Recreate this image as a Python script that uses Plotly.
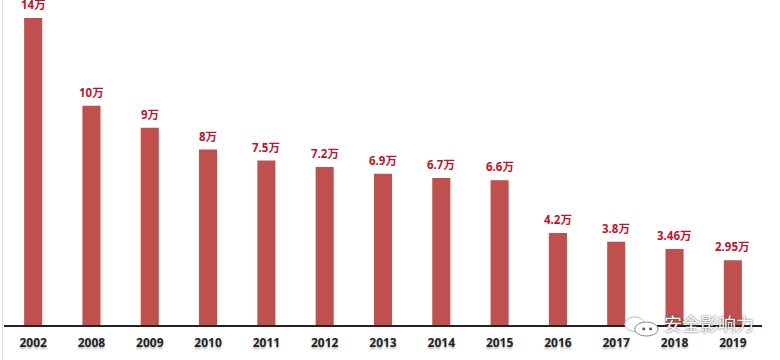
import plotly.graph_objects as go

years = ["2002","2008","2009","2010","2011","2012","2013","2014","2015","2016","2017","2018","2019"]
values = [14, 10, 9, 8, 7.5, 7.2, 6.9, 6.7, 6.6, 4.2, 3.8, 3.46, 2.95]
labels = ["14万","10万","9万","8万","7.5万","7.2万","6.9万","6.7万","6.6万","4.2万","3.8万","3.46万","2.95万"]

FONT = "Open Sans, Noto Sans CJK SC, sans-serif"
fig = go.Figure(go.Bar(
    x=years, y=values, marker=dict(color="#c0504d", line=dict(width=0)), width=0.31,
    hoverinfo="skip",
))
for i, (v, lab) in enumerate(zip(values, labels)):
    # on a category axis an annotation's x is the category's index
    fig.add_annotation(x=i, y=v, text=lab, showarrow=False, yanchor="bottom", yshift=4,
                       font=dict(family=FONT, size=11.5, color="#c0142a", weight="bold"))
fig.update_layout(
    width=780, height=360, autosize=False, showlegend=False,
    margin=dict(l=4, r=18, t=0, b=35),
    paper_bgcolor="white", plot_bgcolor="white",
    font=dict(family=FONT, color="#222222"),
    xaxis=dict(type="category", showgrid=False, showline=True, linecolor="#222222", linewidth=2,
               ticks="", automargin=False, ticklabelstandoff=6,
               tickfont=dict(size=12, color="#222222", weight="bold", family=FONT,
                             shadow="0px 2px 2px #bbbbbb")),
    yaxis=dict(range=[0, 14.82], visible=False, fixedrange=True),
    shapes=[
        dict(type="line", xref="paper", yref="paper", x0=-0.002, x1=-0.002, y0=-0.11, y1=1,
             line=dict(color="#dddddd", width=1)),
        dict(type="circle", xref="x domain", yref="y domain", x0=0.819, x1=0.845, y0=-0.02, y1=0.025,
             fillcolor="white", line=dict(color="#bbbbbb", width=1), layer="above"),
        dict(type="circle", xref="x domain", yref="y domain", x0=0.832, x1=0.863, y0=-0.034, y1=0.009,
             fillcolor="white", line=dict(color="#888888", width=1), layer="above"),
        dict(type="circle", xref="x domain", yref="y domain", x0=0.842, x1=0.846, y0=-0.016, y1=-0.008,
             fillcolor="#555555", line=dict(width=0), layer="above"),
        dict(type="circle", xref="x domain", yref="y domain", x0=0.851, x1=0.855, y0=-0.016, y1=-0.008,
             fillcolor="#555555", line=dict(width=0), layer="above"),
    ],
)
fig.add_annotation(xref="x domain", yref="y domain", x=0.991, y=0.0, xanchor="right", yanchor="middle",
                   yshift=2, borderpad=0,
                   text="安全影响力", showarrow=False,
                   font=dict(family="Noto Sans CJK SC", size=18, color="#ffffff",
                             shadow="0px 0px 2px #333333"))
fig.write_html("out.html", config=dict(displayModeBar=False),
               post_script="document.body.style.margin='0';document.body.style.overflow='hidden';")
